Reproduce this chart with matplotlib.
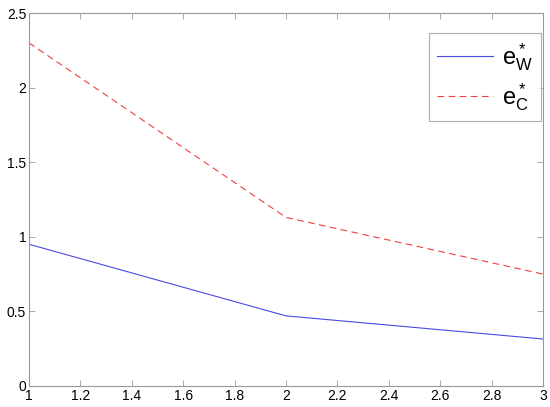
import matplotlib
matplotlib.use('Agg')
import matplotlib.pyplot as plt

plt.rcParams['font.family'] = ['Liberation Sans', 'DejaVu Sans']
plt.rcParams['mathtext.fontset'] = 'custom'
plt.rcParams['mathtext.rm'] = 'Liberation Sans'
plt.rcParams['mathtext.it'] = 'Liberation Sans'

x = [1, 2, 3]
e_w = [0.95, 0.47, 0.315]
e_c = [2.30, 1.13, 0.75]

fig = plt.figure(figsize=(5.5, 4.07), dpi=100)
ax = fig.add_axes([0.0527, 0.0516, 0.9345, 0.9164])
ax.plot(x, e_w, color='#4a4ae0', lw=0.8, label=r'$\mathregular{e^*_W}$')
ax.plot(x, e_c, color='#f04040', lw=0.8, ls=(0, (6, 4)), label=r'$\mathregular{e^*_C}$')

ax.set_xlim(1, 3)
ax.set_ylim(0, 2.5)
ax.set_xticks([1, 1.2, 1.4, 1.6, 1.8, 2, 2.2, 2.4, 2.6, 2.8, 3])
ax.set_xticklabels(['1', '1.2', '1.4', '1.6', '1.8', '2', '2.2', '2.4', '2.6', '2.8', '3'])
ax.set_yticks([0, 0.5, 1, 1.5, 2, 2.5])
ax.set_yticklabels(['0', '0.5', '1', '1.5', '2', '2.5'])
ax.tick_params(direction='in', top=True, right=True, length=4, width=0.6,
               colors='#999999', labelcolor='black', labelsize=10, pad=2)
for s in ax.spines.values():
    s.set_color('#999999')
    s.set_linewidth(0.8)

leg = ax.legend(loc='upper right', fontsize=17, frameon=True, fancybox=False,
                handlelength=2.4, handletextpad=0.35, borderpad=0.35,
                labelspacing=0.35, borderaxespad=0,
                bbox_to_anchor=(0.996, 0.946))
leg.get_frame().set_edgecolor('#999999')
leg.get_frame().set_linewidth(0.8)

fig.savefig('out.png', dpi=100)
